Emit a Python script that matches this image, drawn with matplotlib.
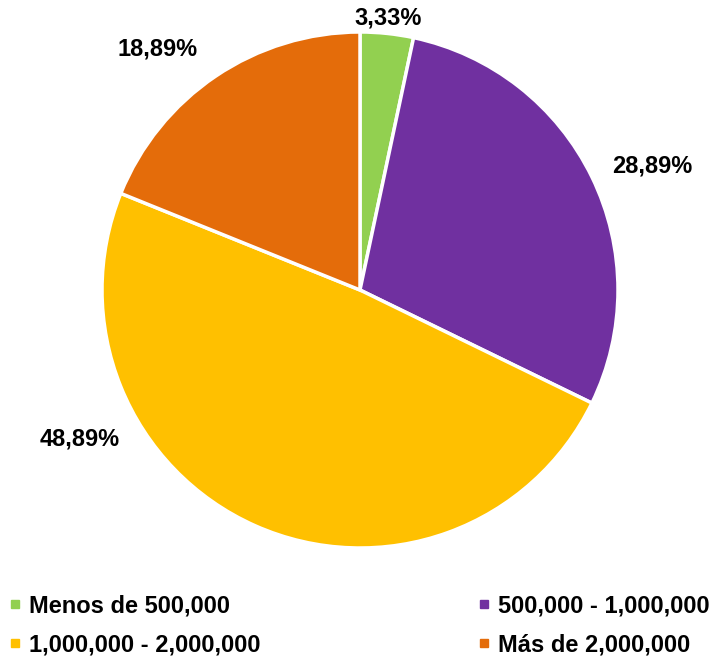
import numpy as np
import matplotlib
matplotlib.use("Agg")
import matplotlib.pyplot as plt
from matplotlib.lines import Line2D

plt.rcParams['font.family'] = ['Liberation Sans', 'DejaVu Sans']

categories = ["Menos de 500,000", "500,000 - 1,000,000",
              "1,000,000 - 2,000,000", "Más de 2,000,000"]
shares = [3.33, 28.89, 48.89, 18.89]
colors = ["#92D050", "#7030A0", "#FFC000", "#E46C0A"]

# where each percentage label sits (angle in degrees, radius as a fraction of the pie)
label_angle = [84, 23, 208, 130]
label_radius = [1.06, 1.23, 1.23, 1.22]

W, H = 711, 660
fig = plt.figure(figsize=(W / 100, H / 100), dpi=100)

cx, cy, r = 360, 290, 258
ax = fig.add_axes([(cx - r) / W, 1 - (cy + r) / H, 2 * r / W, 2 * r / H])

wedges, _ = ax.pie(shares, colors=colors, startangle=90, counterclock=False,
                   wedgeprops=dict(edgecolor="white", linewidth=2.5))
ax.set_xlim(-1, 1)
ax.set_ylim(-1, 1)
ax.set_aspect("equal")

for val, ang, rad in zip(shares, label_angle, label_radius):
    t = np.deg2rad(ang)
    txt = f"{val:.2f}%".replace(".", ",")
    ax.text(rad * np.cos(t), rad * np.sin(t), txt, ha="center", va="center",
            fontsize=17, fontweight="bold", clip_on=False)

handles = [Line2D([], [], marker="s", linestyle="none", markersize=6,
                  markerfacecolor=c, markeredgecolor=c) for c in colors]
order = [0, 2, 1, 3]
fig.legend([handles[i] for i in order], [categories[i] for i in order],
           ncol=2, loc="upper left", bbox_to_anchor=(9 / W, 1 - 594 / H),
           frameon=False, prop=dict(size=17, weight="bold"),
           handlelength=0.5, handletextpad=0.35, columnspacing=9.2,
           labelspacing=0.68, borderaxespad=0.0, borderpad=0.0)

fig.savefig("out.png", dpi=100)
